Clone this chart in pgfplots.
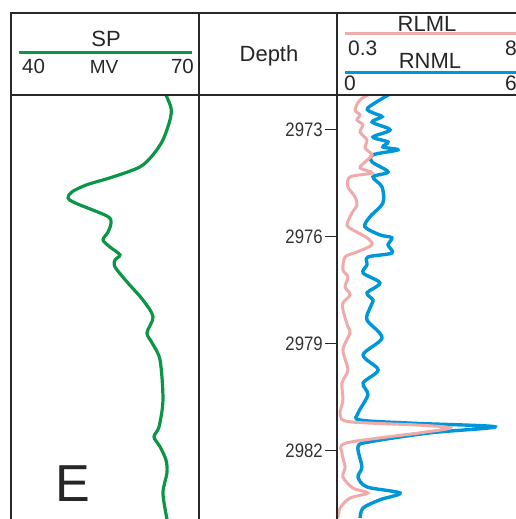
\documentclass[border=0pt]{standalone}
\usepackage{fontspec}
\setmainfont{Liberation Sans}
\newfontfamily\narrowfont[FakeStretch=0.86]{Liberation Sans}
\usepackage{pgfplots}
\pgfplotsset{compat=1.18}

\definecolor{spgreen}{RGB}{10,150,70}
\definecolor{rnblue}{RGB}{0,150,218}
\definecolor{rlpink}{RGB}{240,170,170}
\definecolor{frame}{RGB}{40,40,40}

% depth range shared by all tracks
\pgfmathsetmacro{\dtop}{2972.02}
\pgfmathsetmacro{\dbot}{2983.93}

\pgfplotsset{track/.style={
    scale only axis, height=424pt,
    ymin=\dtop, ymax=\dbot, y dir=reverse,
    axis line style={draw=none},
    xtick=\empty, ytick=\empty,
    clip=true,
}}

\begin{document}
\begin{tikzpicture}
\path[use as bounding box] (0pt,0pt) rectangle (516pt,-519pt);
\clip (0pt,0pt) rectangle (516pt,-519pt);

% SP track
\begin{axis}[track, at={(11pt,-95pt)}, anchor=north west, width=188pt,
    xmin=40, xmax=70]
\addplot[spgreen, line width=3.2pt, smooth] coordinates {
(64.57,2971.96) (65.53,2972.38) (65.37,2972.72) (64.25,2973.28)
(62.66,2973.70) (60.58,2974.04) (56.28,2974.32) (52.13,2974.54)
(49.73,2974.74) (49.10,2974.91) (50.21,2975.05) (55.32,2975.42)
(55.96,2975.61) (55.48,2975.87) (54.68,2976.09) (55.80,2976.29)
(57.39,2976.51) (56.60,2976.65) (56.60,2976.85) (58.51,2977.27)
(61.06,2977.78) (62.66,2978.25) (61.70,2978.70) (62.50,2978.98)
(63.78,2979.46) (64.25,2980.58) (63.62,2981.34) (62.82,2981.62)
(63.78,2981.90) (64.73,2982.27) (64.89,2982.63) (64.25,2983.20)
(64.89,2983.93)
};
\end{axis}

% Depth track
\begin{axis}[track, at={(199pt,-95pt)}, anchor=north west, width=138pt,
    xmin=0, xmax=1,
    ytick={2973,2976,2979,2982},
    ytick pos=right, yticklabel pos=right,
    tick align=inside, major tick length=12pt,
    tick style={frame, line width=1pt},
    yticklabel style={anchor=east, inner sep=0pt, xshift=-14pt,
        font=\narrowfont\fontsize{19.5}{19.5}\selectfont, text=black!80,
        /pgf/number format/1000 sep={},
        /pgf/number format/assume math mode=true},
]
\addplot[draw=none] coordinates {(0.5,2975)};
\end{axis}

% Resistivity track: RNML
\begin{axis}[track, at={(337pt,-95pt)}, anchor=north west, width=179pt,
    xmin=0, xmax=5.967]
\addplot[rnblue, line width=3.4pt, smooth, tension=0.5] coordinates {
(1.83,2971.96) (1.03,2972.38) (1.20,2972.52) (1.50,2972.63)
(1.17,2972.78) (1.77,2973.00) (1.20,2973.20) (1.70,2973.34)
(1.53,2973.48) (2.03,2973.56) (1.20,2973.70) (1.17,2973.90)
(1.70,2974.18) (1.20,2974.32) (1.50,2974.60) (1.53,2975.05)
(1.10,2975.44) (0.93,2975.72) (1.43,2975.95) (1.83,2976.03)
(1.70,2976.23) (1.83,2976.46) (1.03,2976.57) (1.00,2976.79)
(0.87,2977.02) (1.43,2977.30) (1.00,2977.58) (1.20,2977.78)
(1.10,2978.00) (1.00,2978.34) (1.50,2978.84) (0.87,2979.32)
(1.37,2979.74) (0.87,2980.11) (1.03,2980.44) (0.70,2980.96)
(0.77,2981.15) (2.53,2981.24) (5.27,2981.34) (3.10,2981.51)
(1.10,2981.76) (0.70,2981.90) (0.83,2982.47) (0.70,2982.75)
(1.00,2983.03) (2.10,2983.20) (1.43,2983.39) (0.87,2983.62)
(0.77,2983.90)
};
\end{axis}

% Resistivity track: RLML
\begin{axis}[track, at={(337pt,-95pt)}, anchor=north west, width=179pt,
    xmin=0.3, xmax=7.832]
\addplot[rlpink, line width=3pt, smooth, tension=0.5] coordinates {
(1.77,2971.96) (1.27,2972.16) (1.06,2972.44) (1.27,2972.58)
(1.14,2972.72) (1.39,2972.86) (1.27,2973.06) (1.56,2973.28)
(1.48,2973.51) (1.77,2973.70) (1.48,2973.90) (1.27,2974.07)
(1.77,2974.21) (0.85,2974.32) (0.76,2974.60) (1.06,2974.88)
(1.14,2975.11) (0.93,2975.33) (0.72,2975.67) (0.97,2975.81)
(1.56,2976.03) (1.77,2976.23) (1.14,2976.43) (0.64,2976.57)
(0.55,2976.93) (0.76,2977.13) (0.64,2977.41) (0.85,2977.63)
(0.55,2977.86) (0.55,2978.06) (0.76,2978.53) (0.85,2978.70)
(0.55,2979.18) (0.76,2979.74) (0.51,2980.11) (0.55,2980.58)
(0.43,2981.01) (0.85,2981.20) (3.67,2981.29) (5.05,2981.37)
(3.79,2981.51) (0.72,2981.79) (0.51,2982.07) (0.64,2982.47)
(0.55,2982.75) (0.97,2983.06) (1.60,2983.20) (0.85,2983.34)
(0.43,2983.62) (0.34,2983.90)
};
\end{axis}

% frame
\draw[frame, line width=2pt] (10pt,-13pt) -- (516pt,-13pt);
\draw[frame, line width=2.5pt] (11pt,-12pt) -- (11pt,-519pt);
\draw[frame, line width=1.4pt] (11pt,-95pt) -- (516pt,-95pt);
\draw[frame, line width=1.4pt] (199pt,-13pt) -- (199pt,-519pt);
\draw[frame, line width=1.8pt] (337pt,-13pt) -- (337pt,-519pt);

% header scales
\draw[spgreen, line width=3pt] (19pt,-53pt) -- (192pt,-53pt);
\draw[rlpink, line width=3pt] (345pt,-34pt) -- (516pt,-34pt);
\draw[rnblue, line width=3pt] (345pt,-72pt) -- (516pt,-72pt);

\begin{scope}[every node/.style={inner sep=0pt, text=black!85}]
\node[anchor=base] at (106pt,-47pt) {\fontsize{22}{22}\selectfont SP};
\node[anchor=base west] at (22pt,-74pt) {\fontsize{20.5}{20.5}\selectfont 40};
\node[anchor=base] at (104pt,-74pt) {\fontsize{19}{19}\selectfont MV};
\node[anchor=base east] at (194pt,-74pt) {\fontsize{20.5}{20.5}\selectfont 70};
\node[anchor=base] at (269pt,-61pt) {\fontsize{22}{22}\selectfont Depth};
\node[anchor=base] at (427pt,-32pt) {\fontsize{22}{22}\selectfont RLML};
\node[anchor=base west] at (348pt,-56pt) {\fontsize{21}{21}\selectfont 0.3};
\node[anchor=base east] at (517pt,-56pt) {\fontsize{21}{21}\selectfont 8};
\node[anchor=base] at (430pt,-68pt) {\fontsize{22}{22}\selectfont RNML};
\node[anchor=base west] at (344pt,-90pt) {\fontsize{21}{21}\selectfont 0};
\node[anchor=base east] at (517pt,-90pt) {\fontsize{21}{21}\selectfont 6};
\node[anchor=base] at (73pt,-501pt) {\fontsize{52}{52}\selectfont E};
\end{scope}
\end{tikzpicture}
\end{document}
